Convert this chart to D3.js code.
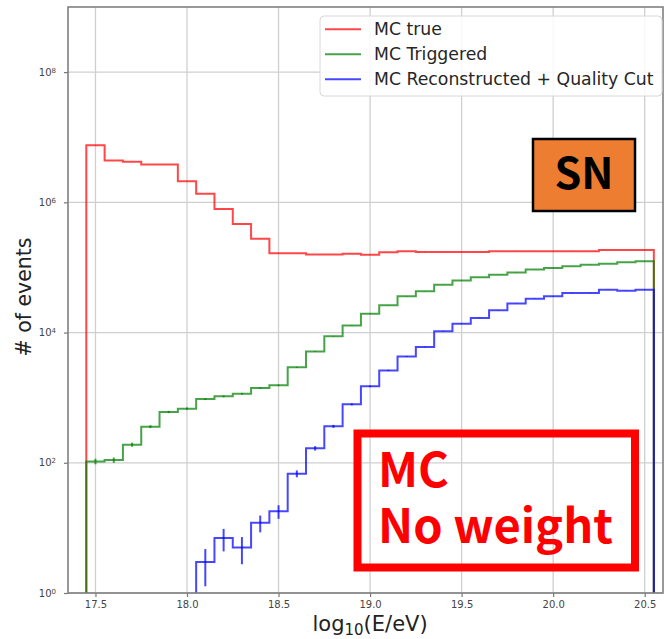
<!DOCTYPE html>
<html>
<head>
<meta charset="utf-8">
<script src="https://cdn.jsdelivr.net/npm/d3@7"></script>
<style>
  body { margin: 0; background: #fff; }
  svg { display: block; }
</style>
</head>
<body>
<svg id="chart" width="666" height="639"></svg>
<script>
// bin centres of the log10(E/eV) histogram, 0.1 wide
var binCenters = [17.5, 17.6, 17.7, 17.8, 17.9, 18.0, 18.1, 18.2, 18.3, 18.4,
                  18.5, 18.6, 18.7, 18.8, 18.9, 19.0, 19.1, 19.2, 19.3, 19.4,
                  19.5, 19.6, 19.7, 19.8, 19.9, 20.0, 20.1, 20.2, 20.3, 20.4, 20.5];
var binWidth = 0.1;

// counts per bin
var mcTrue = [7500000, 4400000, 4200000, 3800000, 3800000, 2100000, 1360000, 790000, 465000, 277000,
              165000, 165000, 158000, 158000, 163000, 157000, 171000, 177000, 172000, 172000,
              172000, 172000, 178000, 178000, 178000, 178000, 178000, 178000, 186000, 186000, 186000];
var mcTriggered = [105, 110, 190, 359, 603, 678, 955, 1047, 1151, 1409,
                   1545, 2924, 5140, 8800, 12800, 19500, 26200, 36000, 43000, 54000,
                   63000, 71000, 77000, 84000, 93000, 98000, 104000, 110000, 114000, 120000, 124000];
var mcReco = [0, 0, 0, 0, 0, 0, 3, 7, 5, 12,
              18, 68, 167, 363, 790, 1493, 2625, 4300, 6000, 10500,
              13700, 16800, 22000, 28000, 33000, 36000, 40600, 40600, 45600, 44000, 45600];

var seriesNames = ['MC true', 'MC Triggered', 'MC Reconstructed + Quality Cut'];
var seriesColors = ['#ff0000', '#008000', '#0000ff'];

var xTicks = [17.5, 18.0, 18.5, 19.0, 19.5, 20.0, 20.5];
var yTicks = [1, 1e2, 1e4, 1e6, 1e8];

var width = 666,
    height = 639,
    margin = {top: 7, right: 3, bottom: 46, left: 68},
    chartWidth = width - margin.left - margin.right,
    chartHeight = height - margin.top - margin.bottom;

var svg = d3.select('#chart');
var chartG = svg.append('g')
    .attr('transform', 'translate(' + margin.left + ',' + margin.top + ')');

var x = d3.scaleLinear().domain([17.35, 20.6]).range([0, chartWidth]);
var y = d3.scaleLog().domain([1, 1e9]).range([chartHeight, 0]);

svg.append('defs').append('clipPath').attr('id', 'plotClip')
  .append('rect').attr('x', 0).attr('y', 0).attr('width', chartWidth).attr('height', chartHeight);

// grid
chartG.append('g').selectAll('line.vgrid').data(xTicks).enter().append('line')
    .attr('x1', d => x(d)).attr('x2', d => x(d))
    .attr('y1', 0).attr('y2', chartHeight)
    .attr('stroke', '#cfcfcf').attr('stroke-width', 1.3);
chartG.append('g').selectAll('line.hgrid').data(yTicks).enter().append('line')
    .attr('x1', 0).attr('x2', chartWidth)
    .attr('y1', d => y(d)).attr('y2', d => y(d))
    .attr('stroke', '#cfcfcf').attr('stroke-width', 1.3);

// step outline for one histogram
function stepPoints(values) {
  var pts = [];
  var first = values.findIndex(v => v > 0);
  var last = values.length - 1;
  while (last >= 0 && !(values[last] > 0)) { last--; }
  pts.push([x(binCenters[first] - binWidth / 2), chartHeight + 2]);
  for (var i = first; i <= last; i++) {
    var lo = binCenters[i] - binWidth / 2, hi = binCenters[i] + binWidth / 2;
    pts.push([x(lo), y(values[i])]);
    pts.push([x(hi), y(values[i])]);
  }
  pts.push([x(binCenters[last] + binWidth / 2), chartHeight + 2]);
  return pts;
}

var plotG = chartG.append('g').attr('clip-path', 'url(#plotClip)');
var line = d3.line();

[mcTrue, mcTriggered, mcReco].forEach(function(values, i) {
  plotG.append('path')
      .attr('d', line(stepPoints(values)))
      .attr('fill', 'none')
      .attr('stroke', seriesColors[i])
      .attr('stroke-opacity', 0.72)
      .attr('stroke-width', 2);

  // poisson error bars at bin centres
  plotG.append('g').selectAll('line').data(values.map((v, j) => [binCenters[j], v]).filter(d => d[1] > 0))
    .enter().append('line')
      .attr('x1', d => x(d[0])).attr('x2', d => x(d[0]))
      .attr('y1', d => y(Math.max(d[1] - Math.sqrt(d[1]), 0.5)))
      .attr('y2', d => y(d[1] + Math.sqrt(d[1])))
      .attr('stroke', seriesColors[i])
      .attr('stroke-opacity', 0.72)
      .attr('stroke-width', 2);
});

// axes
var xAxis = d3.axisBottom(x).tickValues(xTicks).tickFormat(d3.format('.1f')).tickSize(4).tickPadding(4);
var yAxis = d3.axisLeft(y).tickValues(yTicks).tickSize(4).tickPadding(8).tickFormat(d => '10');

var xg = chartG.append('g')
    .attr('transform', 'translate(0,' + chartHeight + ')')
    .call(xAxis);
var yg = chartG.append('g').call(yAxis);

[xg, yg].forEach(function(g) {
  g.select('.domain').remove();
  g.selectAll('.tick line').attr('stroke', '#777').attr('stroke-width', 1.2);
  g.selectAll('.tick text')
      .attr('fill', '#444')
      .style('font-family', '"DejaVu Sans", sans-serif')
      .style('font-size', '10px');
});

// superscript exponents on the log ticks
yg.selectAll('.tick text').each(function(d) {
  var t = d3.select(this);
  t.append('tspan')
      .attr('dy', '-0.45em')
      .style('font-size', '7px')
      .text(Math.round(Math.log10(d)));
});

// frame
chartG.append('rect')
    .attr('x', 0).attr('y', 0)
    .attr('width', chartWidth).attr('height', chartHeight)
    .attr('fill', 'none')
    .attr('stroke', '#808080')
    .attr('stroke-width', 1.6);

// axis titles
svg.append('text')
    .attr('x', margin.left + x(19.0))
    .attr('y', 631)
    .attr('text-anchor', 'middle')
    .attr('fill', '#222')
    .style('font-family', '"DejaVu Sans", sans-serif')
    .style('font-size', '21px')
    .text('log')
  .append('tspan').attr('dy', 4).style('font-size', '15px').text('10')
  .select(function() { return this.parentNode; })
  .append('tspan').attr('dy', -4).text('(E/eV)');

svg.append('text')
    .attr('transform', 'translate(31,297) rotate(-90)')
    .attr('text-anchor', 'middle')
    .attr('fill', '#222')
    .style('font-family', '"DejaVu Sans", sans-serif')
    .style('font-size', '20.5px')
    .text('# of events');

// legend
var legend = svg.append('g').attr('transform', 'translate(320,16)');
legend.append('rect')
    .attr('width', 342).attr('height', 80).attr('rx', 4)
    .attr('fill', '#fff').attr('fill-opacity', 0.85)
    .attr('stroke', '#d8d8d8').attr('stroke-width', 1);
seriesNames.forEach(function(name, i) {
  var ly = 13.3 + i * 25;
  legend.append('line')
      .attr('x1', 5).attr('x2', 41).attr('y1', ly).attr('y2', ly)
      .attr('stroke', seriesColors[i]).attr('stroke-opacity', 0.72).attr('stroke-width', 2);
  legend.append('text')
      .attr('x', 54).attr('y', ly + 6)
      .attr('fill', '#262626')
      .style('font-family', '"DejaVu Sans", sans-serif')
      .style('font-size', '17.3px')
      .text(name);
});

// "SN" badge
svg.append('rect')
    .attr('x', 533).attr('y', 139).attr('width', 102).attr('height', 72)
    .attr('fill', '#ed7d31').attr('stroke', '#000').attr('stroke-width', 2.5);
svg.append('text')
    .attr('x', 584).attr('y', 189)
    .attr('text-anchor', 'middle')
    .attr('fill', '#000')
    .style('font-family', '"Noto Sans CJK JP", sans-serif')
    .style('font-weight', 700)
    .style('font-size', '43px')
    .text('SN');

// "MC / No weight" note
svg.append('rect')
    .attr('x', 357.5).attr('y', 433.5).attr('width', 277.5).attr('height', 134)
    .attr('fill', 'none').attr('stroke', '#ff0000').attr('stroke-width', 8);
['MC', 'No weight'].forEach(function(s, i) {
  svg.append('text')
      .attr('x', 378).attr('y', 487 + i * 56)
      .attr('fill', '#ff0000')
      .style('font-family', '"Noto Sans CJK JP", sans-serif')
      .style('font-weight', 700)
      .style('font-size', '47px')
      .text(s);
});
</script>
</body>
</html>
